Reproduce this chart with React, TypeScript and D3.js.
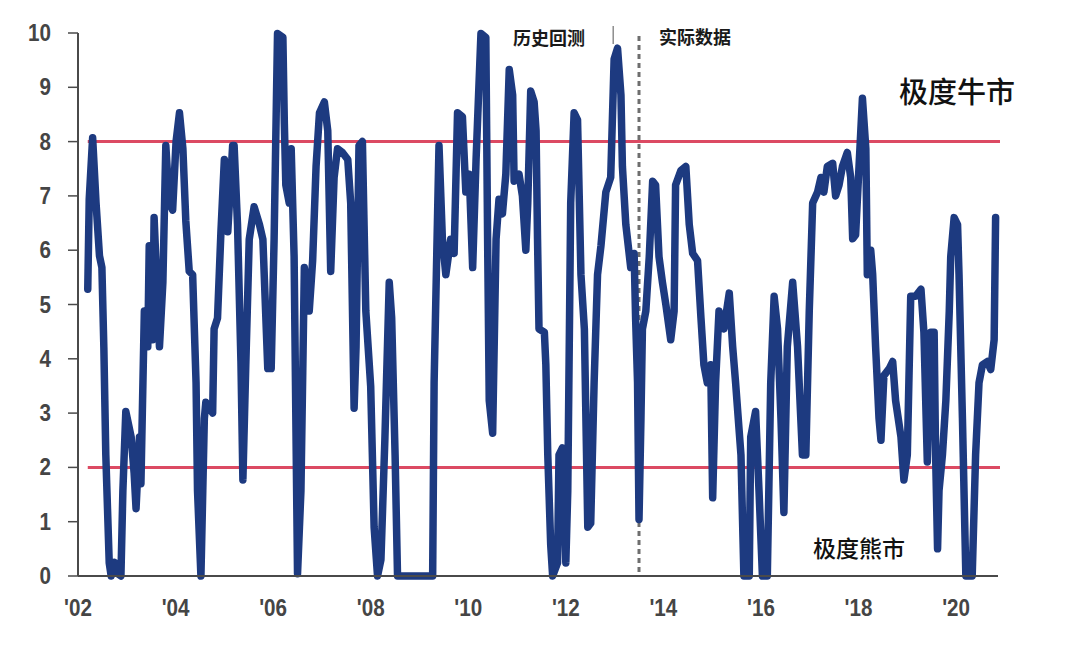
import React from "react";
import * as d3 from "d3";

// Sentiment indicator (0-10), decimal year vs value
const years: number[] = [
  2002.20, 2002.23, 2002.30, 2002.37, 2002.44, 2002.49, 2002.53, 2002.57, 2002.64, 2002.68, 2002.75, 2002.80, 2002.88,
  2002.92, 2002.98, 2003.09, 2003.15, 2003.19, 2003.26, 2003.29, 2003.36, 2003.43, 2003.46, 2003.53, 2003.56, 2003.67,
  2003.74, 2003.80, 2003.87, 2003.94, 2004.01, 2004.08, 2004.15, 2004.21, 2004.28, 2004.35, 2004.42, 2004.45, 2004.52,
  2004.59, 2004.62, 2004.76, 2004.79, 2004.86, 2004.93, 2005.00, 2005.07, 2005.17, 2005.20, 2005.27, 2005.34, 2005.38,
  2005.44, 2005.51, 2005.61, 2005.72, 2005.79, 2005.89, 2005.96, 2006.02, 2006.09, 2006.20, 2006.23, 2006.26, 2006.33,
  2006.37, 2006.43, 2006.50, 2006.57, 2006.64, 2006.74, 2006.81, 2006.88, 2006.95, 2007.05, 2007.12, 2007.18, 2007.25,
  2007.32, 2007.42, 2007.53, 2007.59, 2007.66, 2007.70, 2007.76, 2007.83, 2007.90, 2008.00, 2008.07, 2008.14, 2008.21,
  2008.29, 2008.38, 2008.43, 2008.50, 2008.55, 2009.27, 2009.30, 2009.40, 2009.47, 2009.54, 2009.64, 2009.71, 2009.78,
  2009.88, 2009.95, 2010.02, 2010.09, 2010.16, 2010.26, 2010.36, 2010.40, 2010.43, 2010.50, 2010.57, 2010.63, 2010.70,
  2010.77, 2010.84, 2010.91, 2010.94, 2011.04, 2011.11, 2011.18, 2011.22, 2011.28, 2011.35, 2011.39, 2011.42, 2011.45,
  2011.56, 2011.59, 2011.63, 2011.69, 2011.73, 2011.83, 2011.86, 2011.93, 2012.00, 2012.04, 2012.10, 2012.17, 2012.24,
  2012.31, 2012.38, 2012.45, 2012.51, 2012.58, 2012.65, 2012.72, 2012.82, 2012.92, 2012.99, 2013.06, 2013.13, 2013.16,
  2013.23, 2013.33, 2013.40, 2013.43, 2013.47, 2013.50, 2013.54, 2013.57, 2013.64, 2013.71, 2013.78, 2013.84, 2013.91,
  2013.98, 2014.05, 2014.15, 2014.22, 2014.25, 2014.36, 2014.46, 2014.53, 2014.60, 2014.70, 2014.77, 2014.83, 2014.90,
  2014.97, 2015.01, 2015.07, 2015.14, 2015.24, 2015.35, 2015.42, 2015.48, 2015.59, 2015.65, 2015.76, 2015.79, 2015.89,
  2015.96, 2016.03, 2016.13, 2016.20, 2016.27, 2016.34, 2016.41, 2016.47, 2016.54, 2016.65, 2016.75, 2016.85, 2016.92,
  2016.99, 2017.06, 2017.16, 2017.23, 2017.29, 2017.36, 2017.47, 2017.53, 2017.60, 2017.67, 2017.77, 2017.84, 2017.88,
  2017.94, 2018.01, 2018.08, 2018.15, 2018.18, 2018.25, 2018.29, 2018.35, 2018.42, 2018.46, 2018.52, 2018.63, 2018.70,
  2018.76, 2018.87, 2018.93, 2019.00, 2019.07, 2019.17, 2019.28, 2019.34, 2019.41, 2019.48, 2019.55, 2019.58, 2019.62,
  2019.65, 2019.72, 2019.79, 2019.86, 2019.89, 2019.96, 2020.03, 2020.06, 2020.13, 2020.20, 2020.33, 2020.40, 2020.47,
  2020.54, 2020.64, 2020.71, 2020.78, 2020.81,
];

const values: number[] = [
  5.28, 6.94, 8.07, 6.87, 5.9, 5.68, 4.2, 2.23, 0.24, 0.0, 0.25, 0.05, 0.0,
  1.57, 3.03, 2.56, 1.9, 1.24, 2.56, 1.7, 4.88, 4.22, 6.08, 4.35, 6.6, 4.22,
  5.41, 7.93, 6.87, 6.74, 8.0, 8.53, 7.87, 6.54, 5.61, 5.55, 3.56, 1.57, 0.0,
  2.9, 3.2, 3.0, 4.55, 4.75, 6.34, 7.67, 6.34, 7.93, 7.93, 6.47, 3.95, 1.77,
  3.9, 6.2, 6.8, 6.47, 6.2, 3.82, 3.82, 6.2, 9.99, 9.92, 8.33, 7.2, 6.87,
  7.87, 5.88, 0.04, 1.57, 5.68, 4.88, 5.81, 7.54, 8.53, 8.73, 8.2, 5.61, 7.34,
  7.87, 7.8, 7.67, 6.87, 3.09, 4.22, 7.93, 8.0, 4.88, 3.49, 0.9, 0.0, 0.3,
  2.5, 5.41, 4.75, 2.23, 0.0, 0.0, 3.56, 7.93, 6.2, 5.55, 6.2, 5.94, 8.53,
  8.46, 7.07, 7.4, 5.68, 7.67, 9.99, 9.92, 5.88, 3.23, 2.63, 6.2, 6.94, 6.67,
  7.4, 9.33, 8.86, 7.27, 7.4, 7.0, 6.0, 6.87, 8.93, 8.73, 8.2, 6.2, 4.55,
  4.49, 3.9, 2.23, 0.57, 0.0, 0.24, 2.23, 2.36, 0.24, 1.57, 6.87, 8.53, 8.4,
  5.55, 4.55, 0.9, 0.97, 3.56, 5.55, 6.08, 7.07, 7.34, 9.52, 9.72, 8.86, 7.54,
  6.47, 5.68, 5.94, 4.75, 3.56, 1.04, 2.9, 4.55, 4.88, 5.88, 7.27, 7.2, 5.88,
  5.41, 5.0, 4.35, 4.88, 7.2, 7.47, 7.54, 6.47, 5.94, 5.81, 4.75, 3.89, 3.56,
  3.89, 1.44, 3.56, 4.88, 4.55, 5.21, 4.22, 3.56, 2.23, 0.0, 0.0, 2.56, 3.03,
  1.57, 0.0, 0.0, 3.56, 5.15, 4.55, 2.9, 1.17, 4.22, 5.41, 4.22, 2.23, 2.23,
  4.88, 6.87, 7.07, 7.34, 7.07, 7.54, 7.6, 7.0, 7.2, 7.54, 7.8, 7.34, 6.21,
  6.28, 7.54, 8.8, 7.87, 5.55, 6.0, 5.55, 4.22, 2.9, 2.5, 3.69, 3.82, 3.95,
  3.23, 2.56, 1.77, 2.23, 5.15, 5.15, 5.28, 4.49, 2.1, 4.49, 4.49, 2.23, 0.5,
  1.57, 2.23, 3.23, 4.88, 5.88, 6.6, 6.47, 5.55, 2.9, 0.0, 0.0, 2.23, 3.56,
  3.89, 3.95, 3.8, 4.35, 6.6,
];

const yTicks: number[] = [0, 1, 2, 3, 4, 5, 6, 7, 8, 9, 10];
const xTickYears: number[] = [2002, 2004, 2006, 2008, 2010, 2012, 2014, 2016, 2018, 2020];
const thresholds: number[] = [8, 2];
const thresholdStart = 2002.2;
const splitYear = 2013.5;
const labelBacktest = "历史回测";
const labelLive = "实际数据";
const labelBull = "极度牛市";
const labelBear = "极度熊市";

export default function App() {
  const W = 1080;
  const H = 660;
  const x = d3.scaleLinear().domain([2002, 2020.9]).range([78, 1000]);
  const y = d3.scaleLinear().domain([0, 10]).range([576, 33]);

  const pts: [number, number][] = years.map((yr, i) => [yr, values[i]]);
  const line = d3
    .line<[number, number]>()
    .x((d) => x(d[0]))
    .y((d) => y(d[1]));

  const numFont = "'Liberation Sans', Arial, sans-serif";
  const cjk = "'Noto Sans CJK SC', 'Noto Sans', sans-serif";
  const axisColor = "#4a4a4a";

  return (
    <svg
      width={W}
      height={H}
      style={{ position: "absolute", left: 0, top: 0, background: "#fff" }}
    >
      <rect x={0} y={0} width={W} height={H} fill="#fff" />

      {/* threshold lines */}
      {thresholds.map((t) => (
        <line
          key={t}
          x1={x(thresholdStart)}
          x2={x(2020.9)}
          y1={y(t)}
          y2={y(t)}
          stroke="#dc4a63"
          strokeWidth={3}
        />
      ))}

      {/* split marker */}
      <line
        x1={x(splitYear)}
        x2={x(splitYear)}
        y1={y(10) + 3}
        y2={y(0)}
        stroke="#6e6e6e"
        strokeWidth={3}
        strokeDasharray="5 4"
      />
      <line
        x1={x(2012.97)}
        x2={x(2012.97)}
        y1={26}
        y2={44}
        stroke="#555"
        strokeWidth={1}
      />

      {/* data line */}
      <path
        d={line(pts) || ""}
        fill="none"
        stroke="#1d3a80"
        strokeWidth={7.5}
        strokeLinejoin="round"
        strokeLinecap="round"
      />

      {/* y axis */}
      <line x1={78} x2={78} y1={y(10)} y2={y(0)} stroke={axisColor} strokeWidth={2} />
      {yTicks.map((t) => (
        <g key={t}>
          <line x1={68} x2={78} y1={y(t)} y2={y(t)} stroke={axisColor} strokeWidth={1.5} />
          <g transform={`translate(51,${y(t) + 8}) scale(0.86,1)`}>
            <text
              x={0}
              y={0}
              textAnchor="end"
              fontFamily={numFont}
              fontSize={24}
              fontWeight={700}
              fill="#454545"
            >
              {t}
            </text>
          </g>
        </g>
      ))}

      {/* x axis */}
      <line x1={78} x2={x(2020.9) - 2} y1={y(0)} y2={y(0)} stroke={axisColor} strokeWidth={2} />
      {xTickYears.map((yr) => (
        <g key={yr} transform={`translate(${x(yr)},616) scale(0.86,1)`}>
          <text
            x={0}
            y={0}
            textAnchor="middle"
            fontFamily={numFont}
            fontSize={24}
            fontWeight={700}
            fill="#454545"
          >
            {"'" + String(yr % 100).padStart(2, "0")}
          </text>
        </g>
      ))}

      {/* annotations */}
      <text x={549} y={45} textAnchor="middle" fontFamily={cjk} fontSize={18} fontWeight={700} fill="#1a1a1a">
        {labelBacktest}
      </text>
      <text x={695} y={44} textAnchor="middle" fontFamily={cjk} fontSize={18} fontWeight={700} fill="#1a1a1a">
        {labelLive}
      </text>
      <text x={957} y={103} textAnchor="middle" fontFamily={cjk} fontSize={29} fontWeight={500} fill="#111">
        {labelBull}
      </text>
      <text x={859} y={557} textAnchor="middle" fontFamily={cjk} fontSize={23} fontWeight={500} fill="#111">
        {labelBear}
      </text>
    </svg>
  );
}
